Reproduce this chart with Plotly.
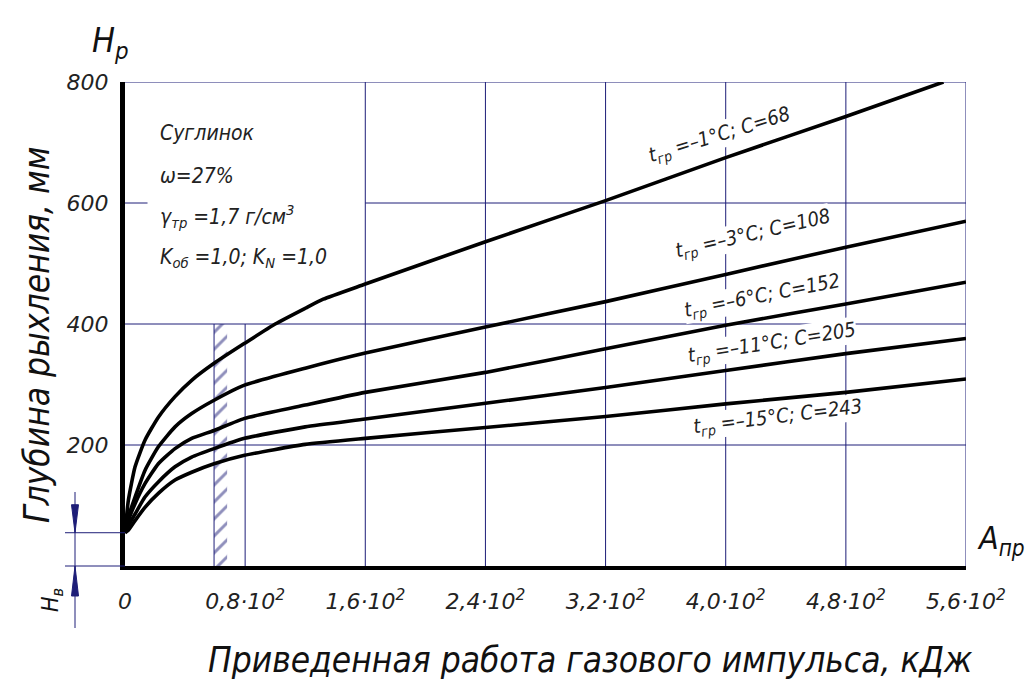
import plotly.graph_objects as go

# ---------------- data ----------------
x_a = [0, 2.2, 6.7, 13.3, 22.2, 33.3, 44.4, 59.3, 79.6, 100, 120, 132, 160, 240, 320, 400, 480, 545]
h_1 = [55, 108, 164, 208, 246, 280, 307, 335, 368, 400, 426, 441, 466, 536, 604, 675, 743, 800]

x_b = [0, 2.2, 6.7, 13.3, 22.2, 33.3, 44.4, 59.3, 79.6, 120, 160, 240, 320, 400, 480, 560]
h_3 = [55, 81, 114, 158, 197, 230, 252, 274, 299, 327, 352, 395, 437, 482, 527, 570]
h_6 = [55, 75, 103, 136, 169, 194, 211, 224, 244, 266, 287, 320, 359, 398, 433, 469]
h_11 = [55, 67, 86, 114, 139, 164, 180, 194, 211, 230, 243, 269, 295, 323, 351, 376]
h_15 = [55, 59, 75, 97, 120, 142, 155, 169, 183, 201, 211, 229, 247, 268, 287, 309]

curve_labels = [
    "t<sub>гр</sub> =–1°С; С=68",
    "t<sub>гр</sub> =–3°С; С=108",
    "t<sub>гр</sub> =–6°С; С=152",
    "t<sub>гр</sub> =–11°С; С=205",
    "t<sub>гр</sub> =–15°С; С=243",
]

x_tickvals = [0, 80, 160, 240, 320, 400, 480, 560]
x_ticktext = ["0", "0,8·10<sup>2</sup>", "1,6·10<sup>2</sup>", "2,4·10<sup>2</sup>",
              "3,2·10<sup>2</sup>", "4,0·10<sup>2</sup>", "4,8·10<sup>2</sup>", "5,6·10<sup>2</sup>"]
y_tickvals = [200, 400, 600, 800]
y_ticktext = ["200", "400", "600", "800"]

zone_x = [59.3, 68]    # hatched zone
zone_top = 400
H_v = 55               # initial depth Hв
x_max, y_max = 560, 800

# ---------------- style ----------------
FONT = "DejaVu Sans Condensed, DejaVu Sans, sans-serif"
FONT_T = "DejaVu Sans, sans-serif"
NAVY = "#1e1e78"
L, R, T, B = 125, 64, 82, 118
W, H = 1030, 684
PW, PH = W - L - R, H - T - B


def pxx(px):
    return (px - L) / PW


def pxy(py):
    return (H - B - py) / PH


fig = go.Figure()

# hatched zone
fig.add_trace(go.Scatter(
    x=[zone_x[0], zone_x[1], zone_x[1], zone_x[0], zone_x[0]],
    y=[0, 0, zone_top, zone_top, 0],
    fill="toself", mode="lines", line=dict(width=0, color="rgba(0,0,0,0)"),
    fillcolor="rgba(0,0,0,0)",
    fillpattern=dict(shape="/", fgcolor=NAVY, bgcolor="rgba(0,0,0,0)", size=12, solidity=0.25),
    hoverinfo="skip", showlegend=False))

for xs, ys in [(x_a, h_1), (x_b, h_3), (x_b, h_6), (x_b, h_11), (x_b, h_15)]:
    fig.add_trace(go.Scatter(x=xs, y=ys, mode="lines",
                             line=dict(color="black", width=3.6, shape="spline", smoothing=0.5),
                             cliponaxis=False, showlegend=False, hoverinfo="skip"))

shapes = []
gl = dict(color=NAVY, width=1)
for xv in x_tickvals[2:]:
    shapes.append(dict(type="line", xref="x", yref="y", x0=xv, x1=xv, y0=0, y1=y_max, line=gl, layer="below"))
shapes.append(dict(type="line", xref="x", yref="y", x0=80, x1=80, y0=0, y1=zone_top, line=gl, layer="below"))
shapes.append(dict(type="line", xref="x", yref="y", x0=zone_x[0], x1=zone_x[0], y0=0, y1=zone_top, line=gl, layer="below"))
for yv in [200, 400, 800]:
    shapes.append(dict(type="line", xref="x", yref="y", x0=0, x1=x_max, y0=yv, y1=yv, line=gl, layer="below"))
shapes.append(dict(type="line", xref="x", yref="y", x0=0, x1=15, y0=600, y1=600, line=gl, layer="below"))
shapes.append(dict(type="line", xref="x", yref="y", x0=160, x1=x_max, y0=600, y1=600, line=gl, layer="below"))

# Hв dimension marks (outside plot)
hv = H_v / y_max
shapes.append(dict(type="line", xref="paper", yref="paper", x0=pxx(65), x1=0, y0=hv, y1=hv, line=gl))
shapes.append(dict(type="line", xref="paper", yref="paper", x0=pxx(65), x1=0, y0=0, y1=0, line=gl))
shapes.append(dict(type="line", xref="paper", yref="paper", x0=pxx(75), x1=pxx(75), y0=pxy(492), y1=pxy(628), line=gl))
ax_ = pxx(75)
dw = 3.5 / PW
shapes.append(dict(type="path", xref="paper", yref="paper",
                   path=f"M {ax_-dw} {hv + 28/PH} L {ax_+dw} {hv + 28/PH} L {ax_} {hv} Z",
                   fillcolor=NAVY, line=dict(color=NAVY, width=1)))
shapes.append(dict(type="path", xref="paper", yref="paper",
                   path=f"M {ax_-dw} {-30/PH} L {ax_+dw} {-30/PH} L {ax_} 0 Z",
                   fillcolor=NAVY, line=dict(color=NAVY, width=1)))

ann = []
tf = dict(family=FONT, size=20, color="#222", style="italic")
# curve labels
lab_pos = [(396, 713, -17), (418, 548, -13), (424, 447, -11), (431, 369, -9), (435, 246, -7)]
for txt, (lx, ly, ang) in zip(curve_labels, lab_pos):
    ann.append(dict(x=lx, y=ly, xref="x", yref="y", text=txt, showarrow=False, textangle=ang,
                    xanchor="center", yanchor="middle", font=tf, bgcolor="white", borderpad=0))

# info block
info = ["Суглинок", "ω=27%", "γ<sub>тр</sub> =1,7 г/см<sup>3</sup>", "K<sub>об</sub> =1,0; K<sub>N</sub> =1,0"]
info_y = [133, 176, 216, 258]
for t, yy in zip(info, info_y):
    ann.append(dict(x=pxx(158), y=pxy(yy), xref="paper", yref="paper", text=t, showarrow=False,
                    xanchor="left", yanchor="middle", font=dict(family=FONT, size=21, color="#222", style="italic")))

big = dict(family=FONT, size=35, color="#111", style="italic")
ann.append(dict(x=pxx(37), y=pxy(335), xref="paper", yref="paper", text="Глубина рыхления, мм",
                textangle=-90, showarrow=False, xanchor="center", yanchor="middle", font=big))
ann.append(dict(x=pxx(590), y=pxy(660), xref="paper", yref="paper",
                text="Приведенная работа газового импульса, кДж", showarrow=False,
                xanchor="center", yanchor="middle", font=big))
ann.append(dict(x=pxx(110), y=pxy(42), xref="paper", yref="paper", text="H<sub>p</sub>",
                showarrow=False, xanchor="center", yanchor="middle",
                font=dict(family=FONT, size=34, color="#111", style="italic")))
ann.append(dict(x=pxx(1001), y=pxy(540), xref="paper", yref="paper", text="A<sub>пр</sub>",
                showarrow=False, xanchor="center", yanchor="middle",
                font=dict(family=FONT, size=32, color="#111", style="italic")))
ann.append(dict(x=pxx(52), y=pxy(600), xref="paper", yref="paper", text="H<sub>в</sub>",
                textangle=-90, showarrow=False, xanchor="center", yanchor="middle",
                font=dict(family=FONT, size=23, color="#111", style="italic")))

fig.update_layout(
    width=W, height=H, margin=dict(l=L, r=R, t=T, b=B),
    paper_bgcolor="white", plot_bgcolor="white",
    shapes=shapes, annotations=ann,
    xaxis=dict(range=[0, x_max], showgrid=False, zeroline=False, showline=True, linecolor="black",
               linewidth=4, tickvals=x_tickvals, ticktext=x_ticktext, ticks="",
               tickfont=dict(family=FONT_T, size=22, color="#222", style="italic"), ticklabelstandoff=13),
    yaxis=dict(range=[0, y_max], showgrid=False, zeroline=False, showline=True, linecolor="black",
               linewidth=5, tickvals=y_tickvals, ticktext=y_ticktext, ticks="",
               tickfont=dict(family=FONT_T, size=22, color="#222", style="italic"), ticklabelstandoff=7),
)

fig.write_html("out.html")
